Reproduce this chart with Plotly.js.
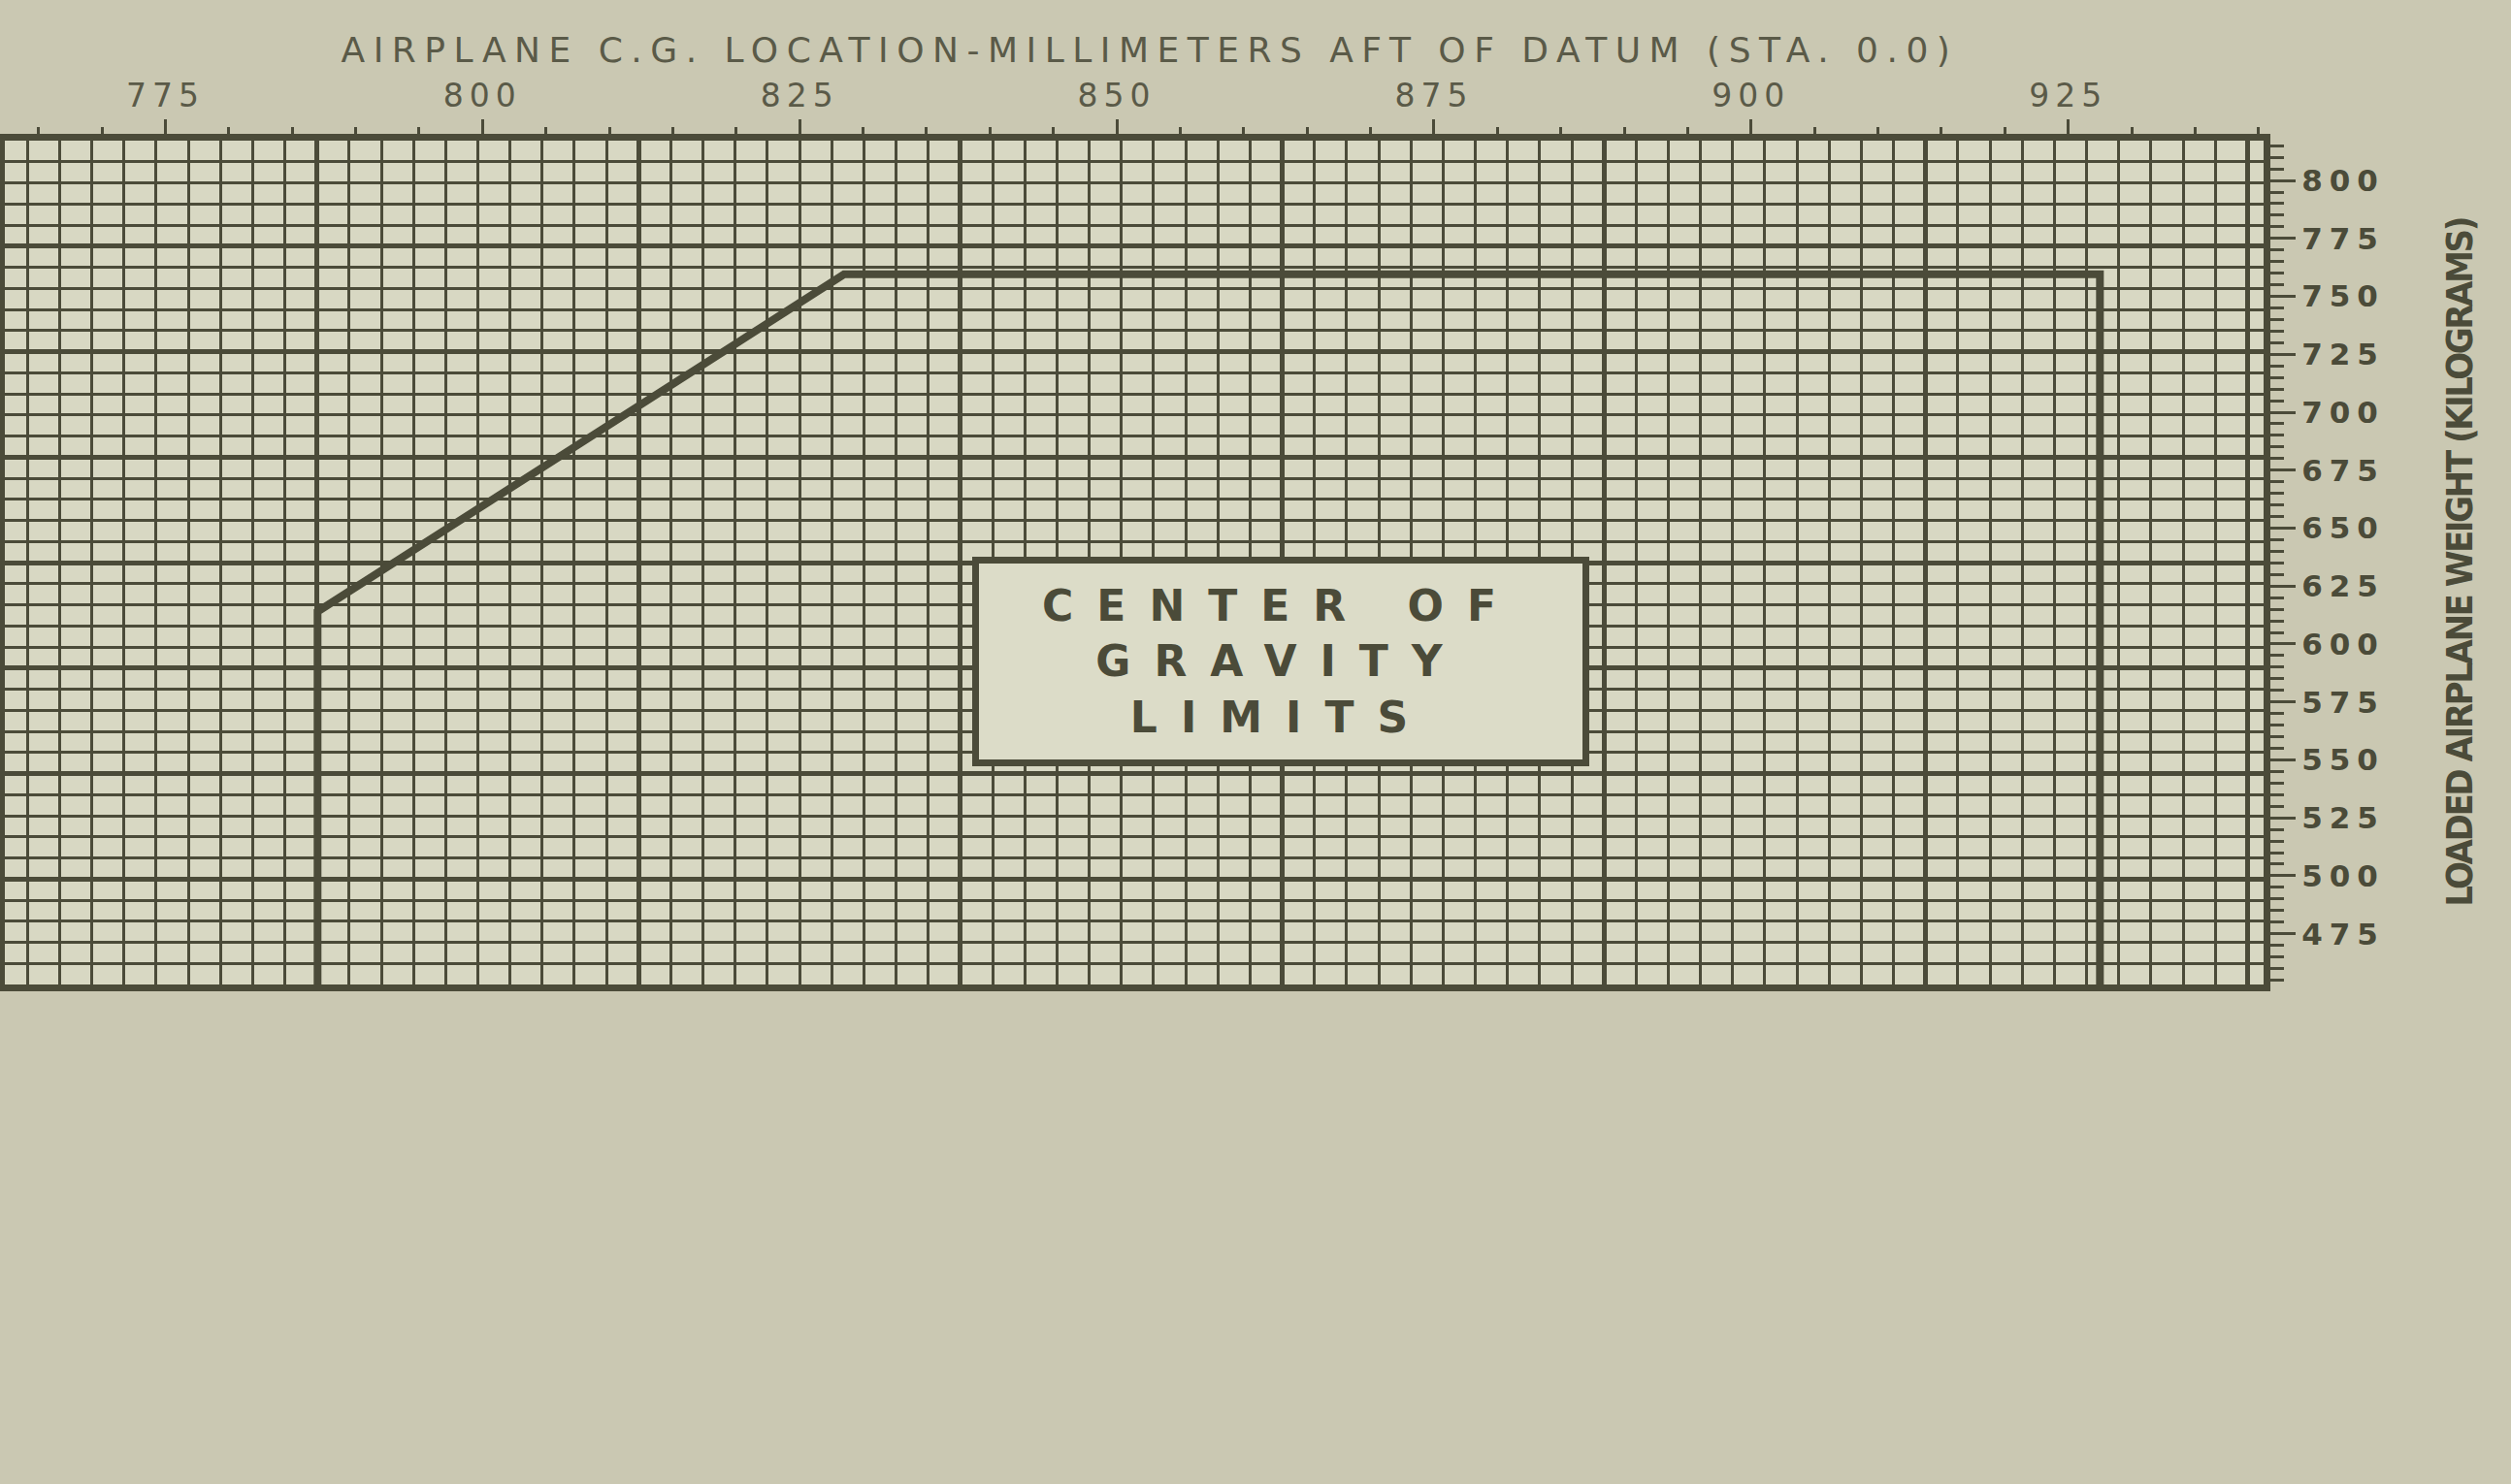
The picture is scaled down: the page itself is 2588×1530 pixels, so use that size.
<!DOCTYPE html>
<html>
<head>
<meta charset="utf-8">
<script src="https://cdn.plot.ly/plotly-3.0.1.min.js"></script>
<style>
  html, body { margin: 0; padding: 0; background: #cac8b2; }
  #chart { width: 2588px; height: 1530px; }
  .xtick text { letter-spacing: 6px; }
  .ytick text { letter-spacing: 7px; }
  .xtitle { letter-spacing: 8.5px; transform: translate(16px, 2px); }
  .ytitle { letter-spacing: -2.5px; }
  .annotation-text { letter-spacing: 24px; }
</style>
</head>
<body>
<div id="chart"></div>
<script>
// C.G. envelope (mm aft of datum, kg)
const envelopeX = [787, 787, 828.5, 927.5, 927.5];
const envelopeY = [453, 614, 759.5, 759.5, 453];

const xTickVals = [775, 800, 825, 850, 875, 900, 925];
const xTickText = ['775', '800', '825', '850', '875', '900', '925'];
const yTickVals = [475, 500, 525, 550, 575, 600, 625, 650, 675, 700, 725, 750, 775, 800];
const yTickText = ['475', '500', '525', '550', '575', '600', '625', '650', '675', '700', '725', '750', '775', '800'];

const INK = '#4b4b39';
const INK_LIGHT = '#5a5a48';

const traceEnvelope = {
  x: envelopeX,
  y: envelopeY,
  type: 'scatter',
  mode: 'lines',
  line: { color: INK, width: 8 },
  hoverinfo: 'skip',
  showlegend: false
};

// empty trace so the graph-paper axes get drawn
const tracePaper = {
  x: [],
  y: [],
  xaxis: 'x2',
  yaxis: 'y2',
  type: 'scatter',
  mode: 'lines',
  hoverinfo: 'skip',
  showlegend: false
};

const layout = {
  width: 2588,
  height: 1530,
  paper_bgcolor: '#cac8b2',
  plot_bgcolor: '#d8d8c3',
  margin: { l: 5, r: 255, t: 145, b: 515 },
  showlegend: false,
  xaxis: {
    range: [762.35, 940.4],
    side: 'top',
    tickmode: 'array',
    tickvals: xTickVals,
    ticktext: xTickText,
    ticks: 'outside',
    ticklen: 18,
    tickwidth: 3,
    tickcolor: INK,
    showgrid: false,
    zeroline: false,
    showline: true,
    linecolor: INK,
    linewidth: 4,
    tickfont: { family: 'DejaVu Sans', size: 33, color: INK_LIGHT },
    minor: { tickmode: 'linear', tick0: 775, dtick: 5, ticks: 'outside', ticklen: 10, tickwidth: 3, tickcolor: INK, showgrid: false },
    title: {
      text: 'AIRPLANE C.G. LOCATION-MILLIMETERS AFT OF DATUM (STA. 0.0)',
      font: { family: 'DejaVu Sans', size: 36, color: INK_LIGHT },
      standoff: 6
    },
    fixedrange: true
  },
  yaxis: {
    range: [453.1, 817.2],
    side: 'right',
    tickmode: 'array',
    tickvals: yTickVals,
    ticktext: yTickText,
    ticks: 'outside',
    ticklen: 28,
    tickwidth: 3,
    tickcolor: INK,
    showgrid: false,
    zeroline: false,
    showline: true,
    linecolor: INK,
    linewidth: 5,
    tickfont: { family: 'DejaVu Sans', size: 31, color: INK, weight: 'bold' },
    minor: { tickmode: 'linear', tick0: 475, dtick: 5, ticks: 'outside', ticklen: 16, tickwidth: 3, tickcolor: INK, showgrid: false },
    title: {
      text: 'LOADED AIRPLANE WEIGHT (KILOGRAMS)',
      font: { family: 'DejaVu Sans Condensed, Liberation Sans Narrow, DejaVu Sans', size: 38, color: INK, weight: 'bold' },
      standoff: 66
    },
    fixedrange: true
  },
  xaxis2: {
    overlaying: 'x',
    anchor: 'y2',
    range: [-0.97, 6.05],
    tickmode: 'linear',
    tick0: 0,
    dtick: 1,
    showticklabels: false,
    ticks: '',
    showgrid: true,
    gridcolor: INK,
    gridwidth: 5,
    zeroline: false,
    showline: true,
    mirror: true,
    linecolor: INK,
    linewidth: 7,
    minor: { tickmode: 'linear', tick0: 0, dtick: 0.1, showgrid: true, gridcolor: INK, gridwidth: 3, ticks: '' },
    fixedrange: true
  },
  yaxis2: {
    overlaying: 'y',
    anchor: 'x2',
    side: 'left',
    range: [0, 8],
    tickmode: 'linear',
    tick0: 0,
    dtick: 1,
    showticklabels: false,
    ticks: '',
    showgrid: true,
    gridcolor: INK,
    gridwidth: 5,
    zeroline: false,
    showline: true,
    mirror: true,
    linecolor: INK,
    linewidth: 7,
    minor: { tickmode: 'linear', tick0: 0, dtick: 0.2, showgrid: true, gridcolor: INK, gridwidth: 3, ticks: '' },
    fixedrange: true
  },
  annotations: [{
    xref: 'paper',
    yref: 'paper',
    x: 0.565,
    y: 0.383,
    xanchor: 'center',
    yanchor: 'middle',
    text: 'CENTER OF<br>GRAVITY<br>LIMITS',
    showarrow: false,
    font: { family: 'DejaVu Sans', size: 44, color: INK, weight: 'bold' },
    align: 'center',
    bgcolor: '#dcdcc8',
    bordercolor: INK,
    borderwidth: 7,
    borderpad: 0,
    width: 622,
    height: 202
  }]
};

Plotly.newPlot('chart', [tracePaper, traceEnvelope], layout, { displayModeBar: false, staticPlot: true });
</script>
</body>
</html>
